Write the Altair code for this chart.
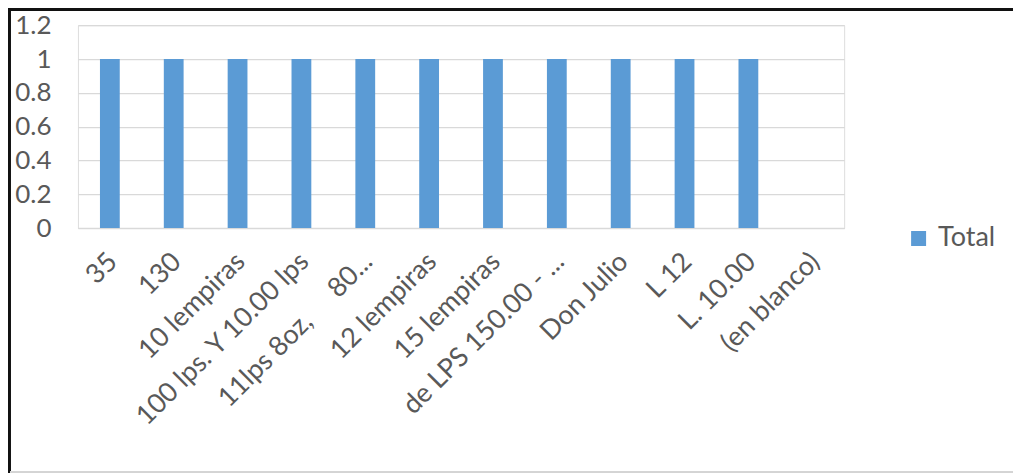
import altair as alt
import pandas as pd

NB = "\u00a0"
categories = ["35", "130", "10 lempiras", "100 lps. Y 10.00 lps", "11lps 8oz," + NB * 5 + "80...",
              "12 lempiras", "15 lempiras", "de LPS 150.00 - ...", "Don Julio", "L 12",
              "L. 10.00", "(en blanco)"]
values = [1, 1, 1, 1, 1, 1, 1, 1, 1, 1, 1, None]
series = ["Total"] * len(categories)
y_ticks = [0, 0.2, 0.4, 0.6, 0.8, 1, 1.2]

df = pd.DataFrame({"cat": categories, "val": values, "series": series})

FONT = "Lato"
GRID = "#d9d9d9"
TXT = "#595959"

bars = alt.Chart(df).mark_bar(color="#5b9bd5").encode(
    x=alt.X("cat:N", sort=categories, title=None,
            scale=alt.Scale(paddingInner=0.69, paddingOuter=0.345),
            axis=alt.Axis(labelAngle=-45, labelAlign="right", labelBaseline="top",
                          labelFontSize=27, labelFont=FONT, labelColor=TXT,
                          labelPadding=20, labelOffset=-6, ticks=False, domain=True, domainColor=GRID,
                          labelLimit=400, grid=False)),
    y=alt.Y("val:Q", title=None,
            scale=alt.Scale(domain=[0, 1.2], nice=False),
            axis=alt.Axis(values=y_ticks, labelFontSize=26, labelFont=FONT, labelColor=TXT,
                          ticks=False, domain=False, gridColor=GRID, gridWidth=1.3,
                          labelPadding=27, labelExpr="datum.value == 0 ? '0' : format(datum.value, '.1~f')")),
    color=alt.Color("series:N", scale=alt.Scale(range=["#5b9bd5"]),
                    legend=alt.Legend(title=None, orient="none", legendX=828, legendY=200,
                                      symbolType="square", symbolSize=225, symbolStrokeWidth=0,
                                      labelFontSize=27, labelFont=FONT, labelColor=TXT,
                                      padding=0, labelOffset=6)),
)

frame_top = alt.Chart(df).mark_rule(color="#111111", strokeWidth=2.5, clip=False).encode(
    x=alt.value(-70), x2=alt.value(936), y=alt.value(-16))
frame_left = alt.Chart(df).mark_rule(color="#111111", strokeWidth=2.5, clip=False).encode(
    x=alt.value(-69), y=alt.value(-17), y2=alt.value(450))
frame_bottom = alt.Chart(df).mark_rule(color="#d4d4d4", strokeWidth=3, clip=False).encode(
    x=alt.value(-68), x2=alt.value(936), y=alt.value(448))

chart = alt.layer(bars, frame_top, frame_left, frame_bottom).properties(
    width=767, height=203,
    autosize=alt.AutoSizeParams(type="none"),
    padding={"left": 70, "top": 17, "right": 170, "bottom": 245},
).configure_view(stroke=None).configure(background="white")

chart.save("out.html", embed_options={"renderer": "svg", "actions": False})
